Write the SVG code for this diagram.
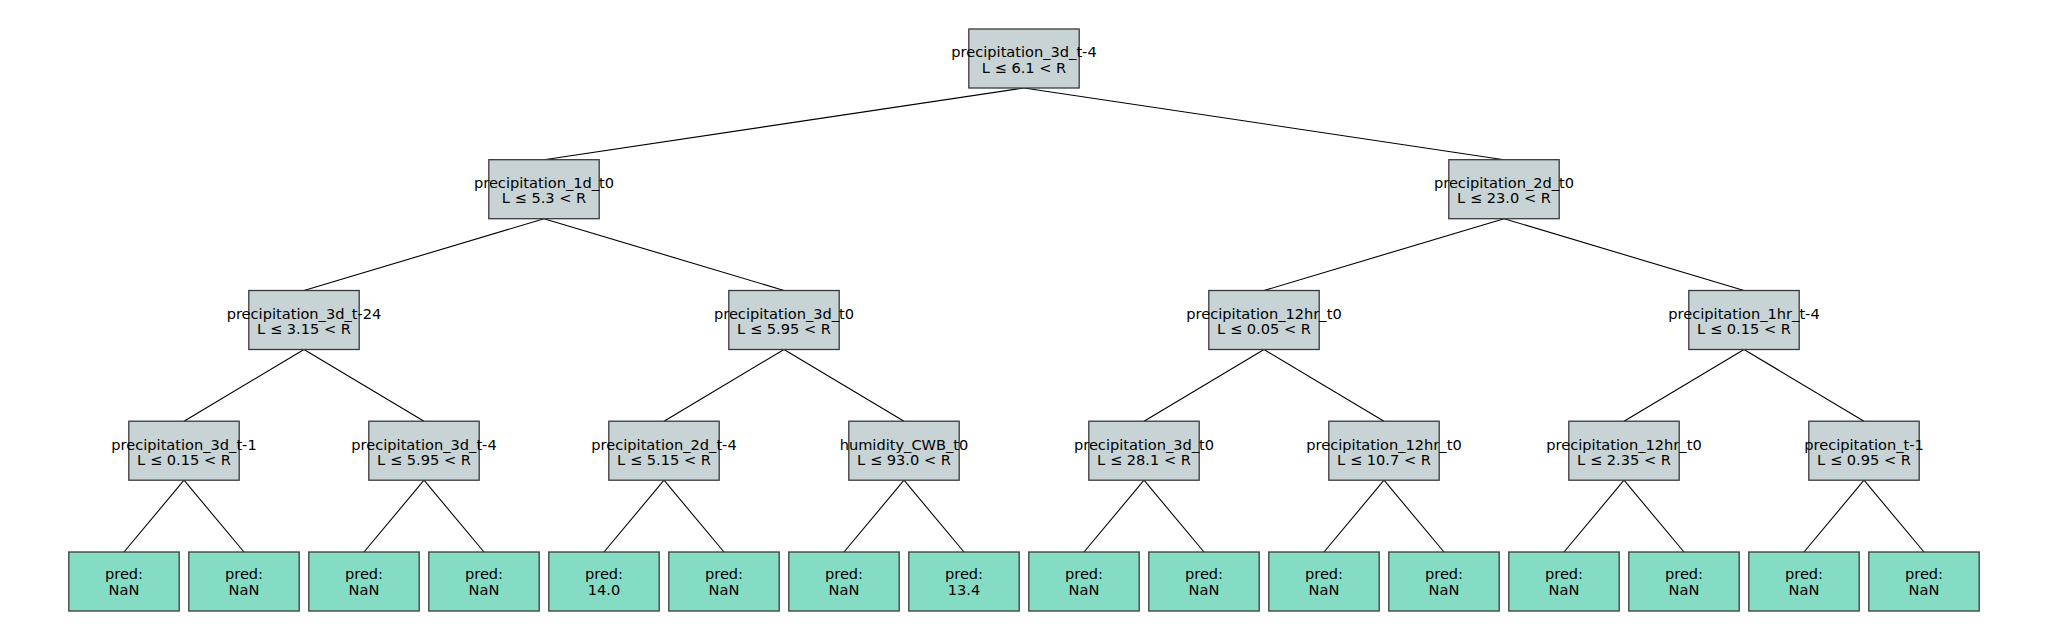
<svg xmlns="http://www.w3.org/2000/svg" width="2048" height="640" viewBox="0 0 2048 640">
<style>
rect.n{fill:#c7d3d4;stroke:#3a3a3a;stroke-width:1.3}
rect.l{fill:#85dcc5;stroke:#3a3a3a;stroke-width:1.3}
text{font-family:"DejaVu Sans",sans-serif;font-size:14.6px;fill:#000;text-anchor:middle}
#edges line{stroke:#000;stroke-width:1.1}
</style>
<rect width="2048" height="640" fill="#fff"/>
<g id="edges">
<line x1="1024" y1="88" x2="544" y2="159.7"/>
<line x1="1024" y1="88" x2="1504" y2="159.7"/>
<line x1="544" y1="218.7" x2="304" y2="290.5"/>
<line x1="544" y1="218.7" x2="784" y2="290.5"/>
<line x1="1504" y1="218.7" x2="1264" y2="290.5"/>
<line x1="1504" y1="218.7" x2="1744" y2="290.5"/>
<line x1="304" y1="349.5" x2="184" y2="421.2"/>
<line x1="304" y1="349.5" x2="424" y2="421.2"/>
<line x1="784" y1="349.5" x2="664" y2="421.2"/>
<line x1="784" y1="349.5" x2="904" y2="421.2"/>
<line x1="1264" y1="349.5" x2="1144" y2="421.2"/>
<line x1="1264" y1="349.5" x2="1384" y2="421.2"/>
<line x1="1744" y1="349.5" x2="1624" y2="421.2"/>
<line x1="1744" y1="349.5" x2="1864" y2="421.2"/>
<line x1="184" y1="480.2" x2="124" y2="552"/>
<line x1="184" y1="480.2" x2="244" y2="552"/>
<line x1="424" y1="480.2" x2="364" y2="552"/>
<line x1="424" y1="480.2" x2="484" y2="552"/>
<line x1="664" y1="480.2" x2="604" y2="552"/>
<line x1="664" y1="480.2" x2="724" y2="552"/>
<line x1="904" y1="480.2" x2="844" y2="552"/>
<line x1="904" y1="480.2" x2="964" y2="552"/>
<line x1="1144" y1="480.2" x2="1084" y2="552"/>
<line x1="1144" y1="480.2" x2="1204" y2="552"/>
<line x1="1384" y1="480.2" x2="1324" y2="552"/>
<line x1="1384" y1="480.2" x2="1444" y2="552"/>
<line x1="1624" y1="480.2" x2="1564" y2="552"/>
<line x1="1624" y1="480.2" x2="1684" y2="552"/>
<line x1="1864" y1="480.2" x2="1804" y2="552"/>
<line x1="1864" y1="480.2" x2="1924" y2="552"/>
</g>
<g id="n0"><rect class="n" x="968.8" y="29" width="110.4" height="59"/><text x="1024" y="57.3">precipitation_3d_t-4</text><text x="1024" y="72.6">L ≤ 6.1 &lt; R</text></g>
<g id="n1"><rect class="n" x="488.8" y="159.7" width="110.4" height="59"/><text x="544" y="188">precipitation_1d_t0</text><text x="544" y="203.3">L ≤ 5.3 &lt; R</text></g>
<g id="n2"><rect class="n" x="1448.8" y="159.7" width="110.4" height="59"/><text x="1504" y="188">precipitation_2d_t0</text><text x="1504" y="203.3">L ≤ 23.0 &lt; R</text></g>
<g id="n3"><rect class="n" x="248.8" y="290.5" width="110.4" height="59"/><text x="304" y="318.8">precipitation_3d_t-24</text><text x="304" y="334.1">L ≤ 3.15 &lt; R</text></g>
<g id="n4"><rect class="n" x="728.8" y="290.5" width="110.4" height="59"/><text x="784" y="318.8">precipitation_3d_t0</text><text x="784" y="334.1">L ≤ 5.95 &lt; R</text></g>
<g id="n5"><rect class="n" x="1208.8" y="290.5" width="110.4" height="59"/><text x="1264" y="318.8">precipitation_12hr_t0</text><text x="1264" y="334.1">L ≤ 0.05 &lt; R</text></g>
<g id="n6"><rect class="n" x="1688.8" y="290.5" width="110.4" height="59"/><text x="1744" y="318.8">precipitation_1hr_t-4</text><text x="1744" y="334.1">L ≤ 0.15 &lt; R</text></g>
<g id="n7"><rect class="n" x="128.8" y="421.2" width="110.4" height="59"/><text x="184" y="449.5">precipitation_3d_t-1</text><text x="184" y="464.8">L ≤ 0.15 &lt; R</text></g>
<g id="n8"><rect class="n" x="368.8" y="421.2" width="110.4" height="59"/><text x="424" y="449.5">precipitation_3d_t-4</text><text x="424" y="464.8">L ≤ 5.95 &lt; R</text></g>
<g id="n9"><rect class="n" x="608.8" y="421.2" width="110.4" height="59"/><text x="664" y="449.5">precipitation_2d_t-4</text><text x="664" y="464.8">L ≤ 5.15 &lt; R</text></g>
<g id="n10"><rect class="n" x="848.8" y="421.2" width="110.4" height="59"/><text x="904" y="449.5">humidity_CWB_t0</text><text x="904" y="464.8">L ≤ 93.0 &lt; R</text></g>
<g id="n11"><rect class="n" x="1088.8" y="421.2" width="110.4" height="59"/><text x="1144" y="449.5">precipitation_3d_t0</text><text x="1144" y="464.8">L ≤ 28.1 &lt; R</text></g>
<g id="n12"><rect class="n" x="1328.8" y="421.2" width="110.4" height="59"/><text x="1384" y="449.5">precipitation_12hr_t0</text><text x="1384" y="464.8">L ≤ 10.7 &lt; R</text></g>
<g id="n13"><rect class="n" x="1568.8" y="421.2" width="110.4" height="59"/><text x="1624" y="449.5">precipitation_12hr_t0</text><text x="1624" y="464.8">L ≤ 2.35 &lt; R</text></g>
<g id="n14"><rect class="n" x="1808.8" y="421.2" width="110.4" height="59"/><text x="1864" y="449.5">precipitation_t-1</text><text x="1864" y="464.8">L ≤ 0.95 &lt; R</text></g>
<g id="leaf0"><rect class="l" x="68.8" y="552" width="110.4" height="59"/><text x="124" y="579.3">pred:</text><text x="124" y="594.6">NaN</text></g>
<g id="leaf1"><rect class="l" x="188.8" y="552" width="110.4" height="59"/><text x="244" y="579.3">pred:</text><text x="244" y="594.6">NaN</text></g>
<g id="leaf2"><rect class="l" x="308.8" y="552" width="110.4" height="59"/><text x="364" y="579.3">pred:</text><text x="364" y="594.6">NaN</text></g>
<g id="leaf3"><rect class="l" x="428.8" y="552" width="110.4" height="59"/><text x="484" y="579.3">pred:</text><text x="484" y="594.6">NaN</text></g>
<g id="leaf4"><rect class="l" x="548.8" y="552" width="110.4" height="59"/><text x="604" y="579.3">pred:</text><text x="604" y="594.6">14.0</text></g>
<g id="leaf5"><rect class="l" x="668.8" y="552" width="110.4" height="59"/><text x="724" y="579.3">pred:</text><text x="724" y="594.6">NaN</text></g>
<g id="leaf6"><rect class="l" x="788.8" y="552" width="110.4" height="59"/><text x="844" y="579.3">pred:</text><text x="844" y="594.6">NaN</text></g>
<g id="leaf7"><rect class="l" x="908.8" y="552" width="110.4" height="59"/><text x="964" y="579.3">pred:</text><text x="964" y="594.6">13.4</text></g>
<g id="leaf8"><rect class="l" x="1028.8" y="552" width="110.4" height="59"/><text x="1084" y="579.3">pred:</text><text x="1084" y="594.6">NaN</text></g>
<g id="leaf9"><rect class="l" x="1148.8" y="552" width="110.4" height="59"/><text x="1204" y="579.3">pred:</text><text x="1204" y="594.6">NaN</text></g>
<g id="leaf10"><rect class="l" x="1268.8" y="552" width="110.4" height="59"/><text x="1324" y="579.3">pred:</text><text x="1324" y="594.6">NaN</text></g>
<g id="leaf11"><rect class="l" x="1388.8" y="552" width="110.4" height="59"/><text x="1444" y="579.3">pred:</text><text x="1444" y="594.6">NaN</text></g>
<g id="leaf12"><rect class="l" x="1508.8" y="552" width="110.4" height="59"/><text x="1564" y="579.3">pred:</text><text x="1564" y="594.6">NaN</text></g>
<g id="leaf13"><rect class="l" x="1628.8" y="552" width="110.4" height="59"/><text x="1684" y="579.3">pred:</text><text x="1684" y="594.6">NaN</text></g>
<g id="leaf14"><rect class="l" x="1748.8" y="552" width="110.4" height="59"/><text x="1804" y="579.3">pred:</text><text x="1804" y="594.6">NaN</text></g>
<g id="leaf15"><rect class="l" x="1868.8" y="552" width="110.4" height="59"/><text x="1924" y="579.3">pred:</text><text x="1924" y="594.6">NaN</text></g>
</svg>
